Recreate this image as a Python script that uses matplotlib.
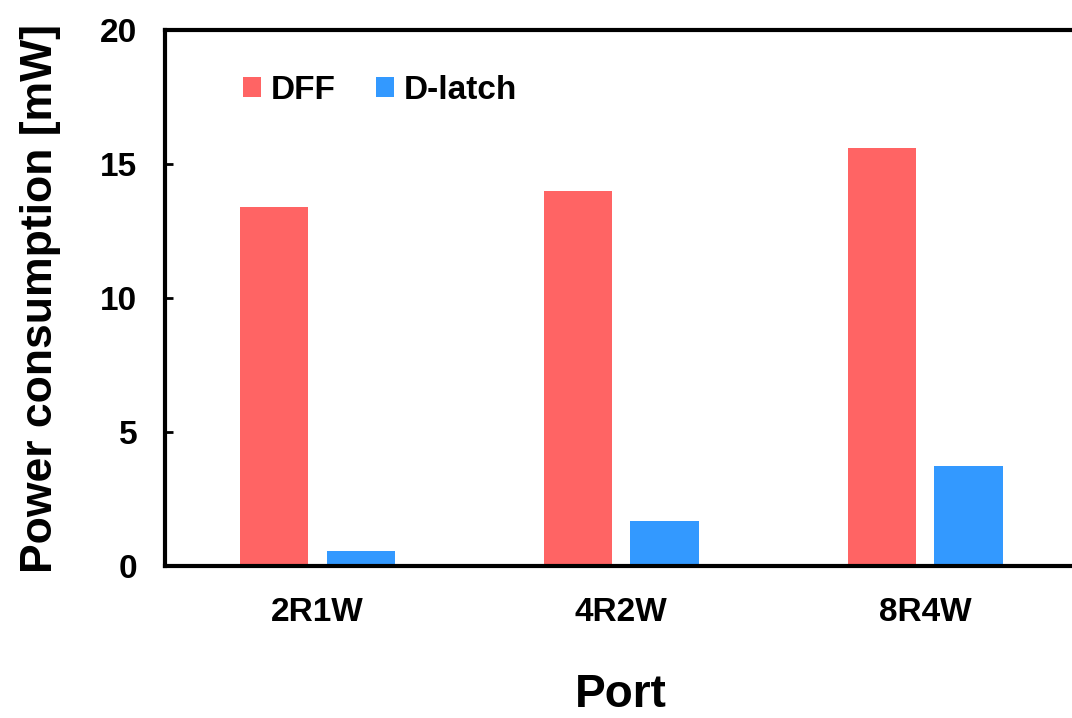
import numpy as np
import matplotlib.pyplot as plt

plt.rcParams['font.family'] = ['Liberation Sans', 'DejaVu Sans']
plt.rcParams['font.weight'] = 'bold'

ports = ['2R1W', '4R2W', '8R4W']
dff = [13.4, 14.0, 15.6]
dlatch = [0.56, 1.68, 3.72]

fig = plt.figure(figsize=(10.72, 7.18), dpi=100)
ax = fig.add_axes([0.154, 0.2117, 0.8507, 0.7465])

x = np.arange(len(ports))
w = 0.224
ax.bar(x - 0.143, dff, w, color='#FF6464', label='DFF')
ax.bar(x + 0.143, dlatch, w, color='#3399FF', label='D-latch')

ax.set_xlim(-0.5, 2.5)
ax.set_ylim(0, 20)
ax.set_yticks([0, 5, 10, 15, 20])
ax.set_xticks(x)
ax.set_xticklabels(ports)

for s in ['left', 'bottom', 'top']:
    ax.spines[s].set_linewidth(3)
ax.spines['right'].set_visible(False)

ax.tick_params(axis='y', direction='in', length=6, width=2, labelsize=24, pad=20)
ax.tick_params(axis='x', length=0, labelsize=24, pad=22)

ax.set_ylabel('Power consumption [mW]', fontsize=32, fontweight='bold', labelpad=28)
ax.set_xlabel('Port', fontsize=33, fontweight='bold', labelpad=33)

ax.legend(loc='upper left', bbox_to_anchor=(0.052, 0.972), frameon=False, ncol=2,
          fontsize=24, handlelength=0.55, handleheight=0.55, handletextpad=0.3,
          columnspacing=1.2)

fig.savefig('out.png', dpi=100)
